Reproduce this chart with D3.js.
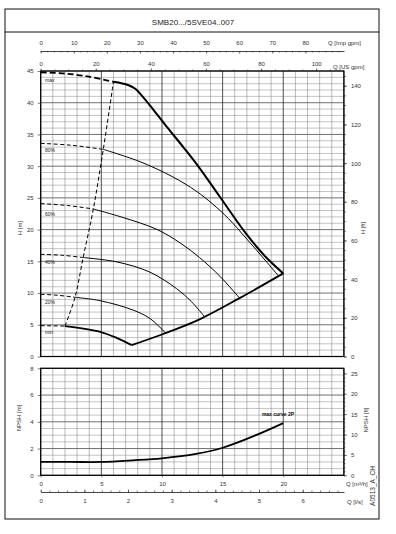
<!DOCTYPE html>
<html>
<head>
<meta charset="utf-8">
<script src="https://cdn.jsdelivr.net/npm/d3@7"></script>
<style>
  body { margin: 0; background: #fff; }
  svg { display: block; font-family: "Liberation Sans", Arial, sans-serif; }
  .tick text { font-size: 6px; fill: #333; }
  .axis path, .axis line { stroke: #222; stroke-width: 0.6; }
</style>
</head>
<body>
<div id="chart"></div>
<script>
// curve data, Q in m3/h, H in m
const curveNames = ["max", "80%", "60%", "40%", "20%", "min"];
const dashMax = [[0, 44.8], [2, 44.6], [4, 44.1], [6, 43.3]];
const solidMax = [[6, 43.3], [7.2, 42.8], [7.8, 42.2], [8.3, 41.2], [9, 39.6], [10.4, 36.2], [11.8, 32.9], [13.1, 29.7], [14.8, 25.1], [17, 19.2], [18.6, 15.6], [20, 13.1]];
const dash80 = [[0, 33.6], [2.5, 33.3], [5.16, 32.65]];
const solid80 = [[5.16, 32.65], [8.2, 30.7], [10.9, 28.3], [12.8, 26.1], [14.2, 24.0], [15.5, 21.7], [17, 18.5], [18.5, 15.2], [19.6, 12.7]];
const dash60 = [[0, 24.1], [2.2, 23.8], [4.34, 23.25]];
const solid60 = [[4.34, 23.25], [6.8, 21.9], [9.56, 20.05], [11.5, 17.9], [13.1, 15.6], [14.8, 12.6], [16.4, 9.2]];
const dash40 = [[0, 16.1], [1.8, 15.95], [3.5, 15.6]];
const solid40 = [[3.5, 15.6], [6.3, 14.9], [9, 13.3], [11.2, 10.7], [12.4, 8.7], [13.5, 6.3]];
const dash20 = [[0, 9.8], [1.4, 9.65], [2.83, 9.33]];
const solid20 = [[2.83, 9.33], [4.9, 8.8], [7.6, 7.33], [9, 6.0], [10.3, 3.7]];
const dashMin = [[0, 4.86], [2.0, 4.8]];
const solidMin = [[2.0, 4.8], [4.9, 3.9], [6.3, 2.9], [7.5, 1.8]];
const maxFlowEdge = [[7.5, 1.8], [10.1, 3.55], [13.1, 5.86], [16.4, 9.2], [20, 13.1]];
const minFlowEdge = [[2.0, 4.8], [2.83, 9.33], [3.5, 15.6], [4.34, 23.25], [5.16, 32.65], [6.0, 43.3]];
const npshMax = [[0, 1.0], [2.5, 1.0], [5, 1.0], [7.6, 1.12], [10, 1.27], [12.8, 1.6], [15, 2.06], [17.75, 3.0], [20, 3.9]];

const hTicks = [0, 5, 10, 15, 20, 25, 30, 35, 40, 45];
const ftTicks = [0, 20, 40, 60, 80, 100, 120, 140];
const npshTicks = [0, 2, 4, 6, 8];
const npshFtTicks = [0, 5, 10, 15, 20, 25];
const qTicks = [0, 5, 10, 15, 20];
const lsTicks = [0, 1, 2, 3, 4, 5, 6];
const impTicks = [0, 10, 20, 30, 40, 50, 60, 70, 80];
const usTicks = [0, 20, 40, 60, 80, 100];

const W = 396, H = 534;
const L = 40.7, R = 343.9, T1 = 71, B1 = 356.5, T2 = 368.3, B2 = 475.3;
const M_FT = 3.2808, IMP = 3.6662, USG = 4.4029;

const svg = d3.select("#chart").append("svg").attr("width", W).attr("height", H);

const x = d3.scaleLinear().domain([0, 25]).range([L, R]);
const yH = d3.scaleLinear().domain([0, 45]).range([B1, T1]);
const yHft = d3.scaleLinear().domain([0, 45 * M_FT]).range([B1, T1]);
const yN = d3.scaleLinear().domain([0, 8]).range([B2, T2]);
const yNft = d3.scaleLinear().domain([0, 8 * M_FT]).range([B2, T2]);
const xImp = d3.scaleLinear().domain([0, 25 * IMP]).range([L, R]);
const xUs = d3.scaleLinear().domain([0, 25 * USG]).range([L, R]);
const xLs = d3.scaleLinear().domain([0, 25 / 3.6]).range([L, R]);

// outer frame and title
svg.append("rect").attr("x", 5).attr("y", 9).attr("width", 374).attr("height", 510)
  .attr("fill", "none").attr("stroke", "#111").attr("stroke-width", 1);
svg.append("line").attr("x1", 5).attr("x2", 379).attr("y1", 32).attr("y2", 32).attr("stroke", "#111");
svg.append("text").attr("x", 193).attr("y", 25).attr("text-anchor", "middle")
  .style("font-size", "8px").attr("fill", "#222").text("SMB20.../5SVE04..007");

// grid
function grid(yScale, yMax, step, majorEvery, top, bottom) {
  const g = svg.append("g");
  d3.range(0, yMax + 1e-6, step).forEach((v) => {
    const major = Math.abs(v / majorEvery - Math.round(v / majorEvery)) < 1e-6;
    g.append("line").attr("x1", L).attr("x2", R).attr("y1", yScale(v)).attr("y2", yScale(v))
      .attr("stroke", major ? "#333" : "#888").attr("stroke-width", major ? 0.7 : 0.5);
  });
  d3.range(0, 25.001, 1).forEach((q) => {
    const major = q % 5 === 0;
    g.append("line").attr("x1", x(q)).attr("x2", x(q)).attr("y1", top).attr("y2", bottom)
      .attr("stroke", major ? "#222" : "#777").attr("stroke-width", major ? 0.8 : 0.5);
  });
  g.append("rect").attr("x", L).attr("y", top).attr("width", R - L).attr("height", bottom - top)
    .attr("fill", "none").attr("stroke", "#000").attr("stroke-width", 1.2);
}
grid(yH, 45, 1, 5, T1, B1);
grid(yN, 8, 0.5, 2, T2, B2);

// axes
function axis(gen, tx, ty) {
  return svg.append("g").attr("class", "axis").attr("transform", `translate(${tx},${ty})`).call(gen);
}
axis(d3.axisLeft(yH).tickValues(hTicks).tickSize(3).tickPadding(4), L, 0).select(".domain").remove();
axis(d3.axisRight(yHft).tickValues(ftTicks).tickSize(3).tickPadding(4), R, 0).select(".domain").remove();
axis(d3.axisRight(yHft).tickValues(d3.range(0, 146, 5)).tickSize(2).tickFormat(""), R, 0).select(".domain").remove();
axis(d3.axisLeft(yN).tickValues(npshTicks).tickSize(3).tickPadding(4), L, 0).select(".domain").remove();
axis(d3.axisRight(yNft).tickValues(npshFtTicks).tickSize(3).tickPadding(4), R, 0).select(".domain").remove();
axis(d3.axisRight(yNft).tickValues(d3.range(0, 26, 1)).tickSize(1.5).tickFormat(""), R, 0).select(".domain").remove();

axis(d3.axisBottom(x).tickValues(qTicks).tickSize(2).tickPadding(4), 0, B2).select(".domain").remove();
axis(d3.axisBottom(xLs).tickValues(lsTicks).tickFormat(d3.format("d")).tickSizeInner(-2.5).tickSizeOuter(0).tickPadding(7), 0, 492);
axis(d3.axisBottom(xLs).tickValues(d3.range(0, 6.95, 0.2)).tickSizeInner(-1.5).tickSizeOuter(0).tickFormat(""), 0, 492);

axis(d3.axisTop(xImp).tickValues(impTicks).tickSizeInner(-2.5).tickSizeOuter(0).tickPadding(6), 0, 51);
axis(d3.axisTop(xImp).tickValues(d3.range(0, 91.7, 2)).tickSizeInner(-1.5).tickSizeOuter(0).tickFormat(""), 0, 51);
axis(d3.axisTop(xUs).tickValues(usTicks).tickSize(2.5).tickPadding(2.5), 0, T1).select(".domain").remove();
axis(d3.axisTop(xUs).tickValues(d3.range(0, 110, 5)).tickSize(1.5).tickFormat(""), 0, T1).select(".domain").remove();

function label(t, lx, ly, opts = {}) {
  const el = svg.append("text").attr("x", lx).attr("y", ly).style("font-size", (opts.size || 6) + "px")
    .attr("fill", opts.fill || "#333").attr("text-anchor", opts.anchor || "start").text(t);
  if (opts.rot) el.attr("transform", `rotate(-90,${lx},${ly})`).attr("text-anchor", "middle");
  if (opts.bold) el.style("font-weight", "bold");
  return el;
}
label("Q [Imp gpm]", 328, 45);
label("Q [US gpm]", 333, 68.5);
label("Q [m³/h]", 346, 486);
label("Q [l/s]", 347, 504);
label("H [m]", 22, 228, { rot: true });
label("NPSH [m]", 21, 418, { rot: true });
label("H [ft]", 365, 228, { rot: true });
label("NPSH [ft]", 368, 420, { rot: true });
label("A0513_A_CH", 375, 486, { rot: true, size: 6.5 });

// curves
const line = (ys) => d3.line().x((d) => x(d[0])).y((d) => ys(d[1])).curve(d3.curveCatmullRom.alpha(0.5));
const lineH = line(yH);
const curves = svg.append("g");
function draw(data, w, dash, gen = lineH) {
  curves.append("path").attr("d", gen(data)).attr("fill", "none").attr("stroke", "#000")
    .attr("stroke-width", w).attr("stroke-dasharray", dash || null).attr("stroke-linejoin", "round");
}
draw(dashMax, 1.8, "6 3");
draw(solidMax, 2);
[[dash80, solid80], [dash60, solid60], [dash40, solid40], [dash20, solid20]].forEach(([d, s]) => {
  draw(d, 1, "4 2.5");
  draw(s, 1);
});
draw(dashMin, 1, "4 2.5");
draw(solidMin, 1.8);
draw(maxFlowEdge, 1.8);
draw(minFlowEdge, 1, "4 2.5");
draw(npshMax, 1.8, null, line(yN));

const labelH = [43.2, 32.3, 22.2, 14.6, 8.3, 3.55];
curveNames.forEach((n, i) => {
  label(n, 45, yH(labelH[i]), { size: 5, fill: "#222" });
});
label("max curve 2P", 278, 416, { size: 5, bold: true, anchor: "middle", fill: "#111" });
</script>
</body>
</html>
